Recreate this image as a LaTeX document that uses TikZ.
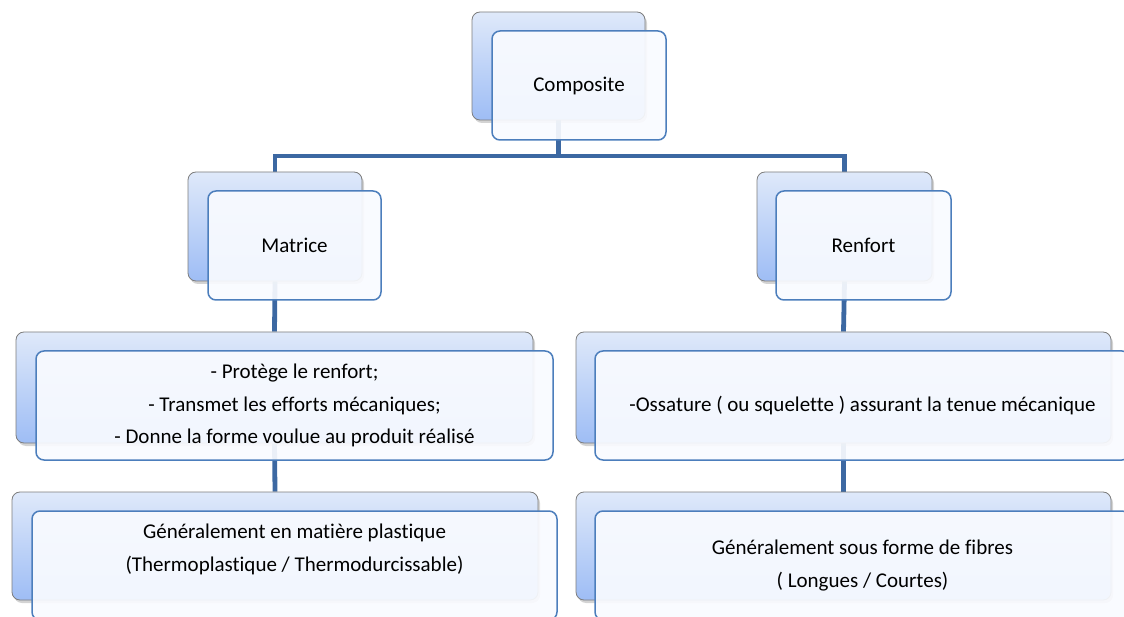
\documentclass[tikz,border=0pt]{standalone}
\usepackage{fontspec}
\setmainfont{Carlito}[Ligatures=NoCommon]
\usetikzlibrary{shadows,backgrounds}
\definecolor{backtop}{RGB}{223,233,250}
\definecolor{backbot}{RGB}{158,189,245}
\definecolor{backedge}{RGB}{125,125,125}
\definecolor{frontedge}{RGB}{76,126,188}
\definecolor{frontfill}{RGB}{249,251,255}
\definecolor{linkblue}{RGB}{60,104,162}
\begin{document}
\begin{tikzpicture}[x=1pt,y=-1pt,
  backbox/.style={draw=backedge, line width=0.8pt, rounded corners=8pt,
    top color=backtop, bottom color=backbot,
    drop shadow={shadow xshift=2pt, shadow yshift=-3pt, opacity=0.35},
    inner sep=0pt},
  frontbox/.style={draw=frontedge, line width=1.5pt, rounded corners=8pt,
    fill=frontfill, fill opacity=0.92, text opacity=1, inner sep=0pt,
    font=\fontsize{21}{32.5}\selectfont, align=center},
  lbl/.style={font=\fontsize{21}{33}\selectfont, align=center, text=black, inner sep=0pt},
  link/.style={draw=linkblue, line width=4.8pt}]
\useasboundingbox (0,0) rectangle (1124,617);

% back boxes
\node[backbox, minimum width=173pt, minimum height=108pt] (compB) at (558.5,66) {};
\node[backbox, minimum width=174pt, minimum height=109pt] (matB) at (275,226.5) {};
\node[backbox, minimum width=175pt, minimum height=109pt] (renB) at (844.5,226.5) {};
\node[backbox, minimum width=517pt, minimum height=111pt] (matdB) at (274.5,387.5) {};
\node[backbox, minimum width=535pt, minimum height=111pt] (rendB) at (843.5,387.5) {};
\node[backbox, minimum width=526pt, minimum height=108pt] (matbB) at (275,546) {};
\node[backbox, minimum width=535pt, minimum height=108pt] (rendbB) at (843.5,546) {};

% front boxes
\node[frontbox, minimum width=174pt, minimum height=109pt] (compF) at (579,85.5) {Composite};
\node[frontbox, minimum width=173pt, minimum height=109pt] (matF) at (294.5,245.5) {Matrice};
\node[frontbox, minimum width=175pt, minimum height=109pt] (renF) at (863.5,245.5) {Renfort};
\node[frontbox, minimum width=517pt, minimum height=109pt] (matdF) at (294.5,405.5)
  {- Protège le renfort;\\- Transmet les efforts mécaniques;\\- Donne la forme voulue au produit réalisé};
\node[frontbox, minimum width=535pt, minimum height=109pt] (rendF) at (862.5,405.5)
  {-Ossature ( ou squelette ) assurant la tenue mécanique};
\node[frontbox, minimum width=525pt, minimum height=109pt] (matbF) at (294.5,565.5) {};
\node[frontbox, minimum width=535pt, minimum height=109pt] (rendbF) at (862.5,565.5) {};
\node[lbl] (matbT) at (294.5,549.5) {Généralement en matière plastique\\(Thermoplastique / Thermodurcissable)};
\node[lbl] (rendbT) at (862.5,566) {Généralement sous forme de fibres\\( Longues / Courtes)};

% connectors
\begin{scope}[on background layer]
  \coordinate (jc) at (compB.south |- 0,156);
  \draw[link] (compB.south) -- (jc);
  \draw[link] (matB.north) |- (jc) -| (renB.north);
  \draw[link] (matB.south) -- (matdB.north);
  \draw[link] (matdB.south) -- (matbB.north);
  \draw[link] (renB.south) -- (rendB.north);
  \draw[link] (rendB.south) -- (rendbB.north);
\end{scope}
\end{tikzpicture}
\end{document}
